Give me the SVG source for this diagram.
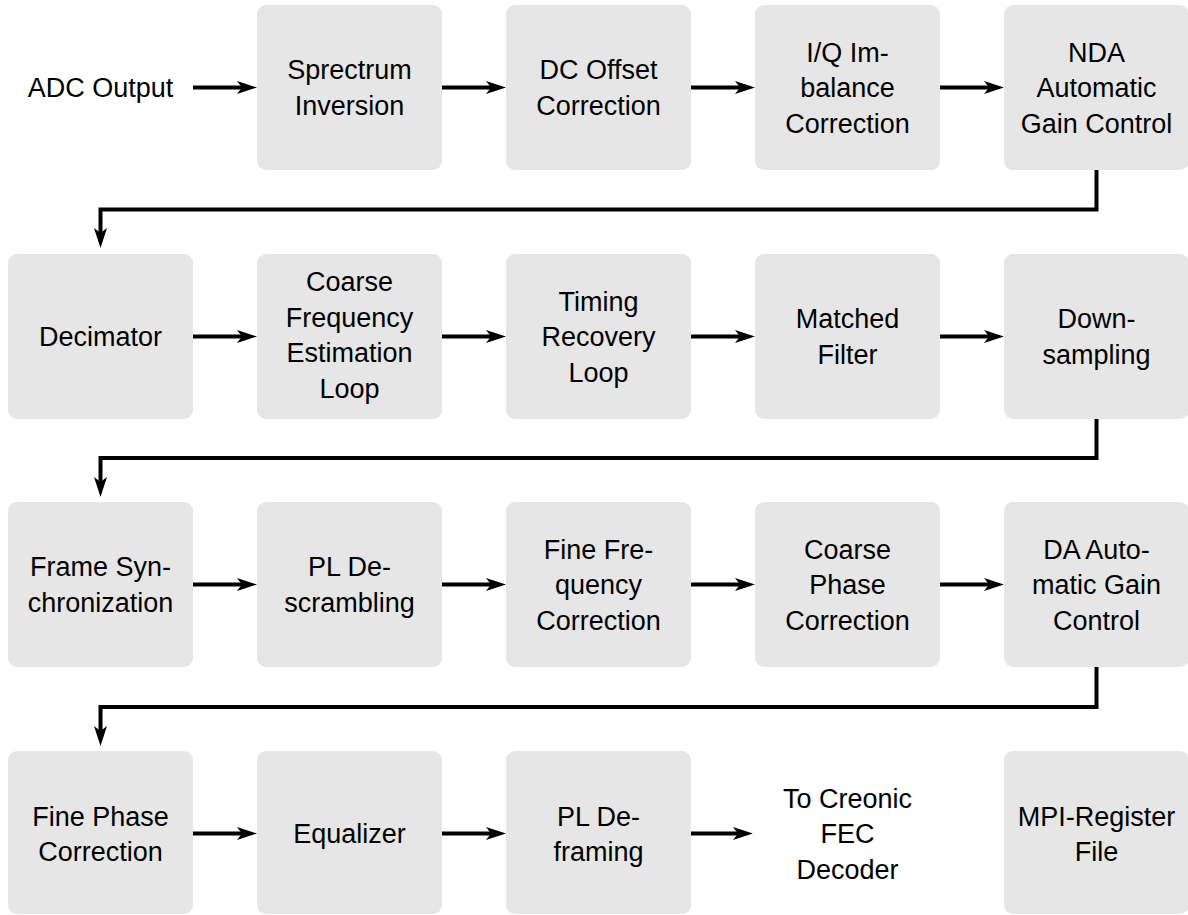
<svg xmlns="http://www.w3.org/2000/svg" width="1188" height="915" viewBox="0 0 1188 915">
<style>
  .box { fill: #e6e6e6; stroke: none; }
  .lbl { font-family: "Liberation Sans", Arial, sans-serif; font-size: 27px; fill: #000; text-anchor: middle; }
  .wire { fill: none; stroke: #000; stroke-width: 4; stroke-linejoin: miter; stroke-linecap: butt; }
</style>
<defs>
  <marker id="ah" viewBox="0 0 20 13" refX="12" refY="6.5" markerWidth="20" markerHeight="13" markerUnits="userSpaceOnUse" orient="auto">
    <path d="M0,0 L20,6.5 L0,13 L5,6.5 z" fill="#000"/>
  </marker>
</defs>
<rect width="1188" height="915" fill="#fff"/>

<!-- Row 1 -->
<g id="adc-output"><text class="lbl" x="100.5" y="97">ADC Output</text></g>
<g id="spectrum-inversion"><rect class="box" x="257" y="5" width="185" height="165" rx="9"/>
  <text class="lbl" x="349.5" y="79.25">Sprectrum</text><text class="lbl" x="349.5" y="114.75">Inversion</text></g>
<g id="dc-offset"><rect class="box" x="506" y="5" width="185" height="165" rx="9"/>
  <text class="lbl" x="598.5" y="79.25">DC Offset</text><text class="lbl" x="598.5" y="114.75">Correction</text></g>
<g id="iq-imbalance"><rect class="box" x="755" y="5" width="185" height="165" rx="9"/>
  <text class="lbl" x="847.5" y="61.5">I/Q Im-</text><text class="lbl" x="847.5" y="97">balance</text><text class="lbl" x="847.5" y="132.5">Correction</text></g>
<g id="nda-agc"><rect class="box" x="1004" y="5" width="185" height="165" rx="9"/>
  <text class="lbl" x="1096.5" y="61.5">NDA</text><text class="lbl" x="1096.5" y="97">Automatic</text><text class="lbl" x="1096.5" y="132.5">Gain Control</text></g>

<!-- Row 2 -->
<g id="decimator"><rect class="box" x="8" y="254" width="185" height="165" rx="9"/>
  <text class="lbl" x="100.5" y="346">Decimator</text></g>
<g id="coarse-freq"><rect class="box" x="257" y="254" width="185" height="165" rx="9"/>
  <text class="lbl" x="349.5" y="291">Coarse</text><text class="lbl" x="349.5" y="326.5">Frequency</text><text class="lbl" x="349.5" y="362">Estimation</text><text class="lbl" x="349.5" y="397.5">Loop</text></g>
<g id="timing-recovery"><rect class="box" x="506" y="254" width="185" height="165" rx="9"/>
  <text class="lbl" x="598.5" y="310.5">Timing</text><text class="lbl" x="598.5" y="346">Recovery</text><text class="lbl" x="598.5" y="381.5">Loop</text></g>
<g id="matched-filter"><rect class="box" x="755" y="254" width="185" height="165" rx="9"/>
  <text class="lbl" x="847.5" y="328.25">Matched</text><text class="lbl" x="847.5" y="363.75">Filter</text></g>
<g id="downsampling"><rect class="box" x="1004" y="254" width="185" height="165" rx="9"/>
  <text class="lbl" x="1096.5" y="328.25">Down-</text><text class="lbl" x="1096.5" y="363.75">sampling</text></g>

<!-- Row 3 -->
<g id="frame-sync"><rect class="box" x="8" y="502" width="185" height="165" rx="9"/>
  <text class="lbl" x="100.5" y="576.25">Frame Syn-</text><text class="lbl" x="100.5" y="611.75">chronization</text></g>
<g id="pl-descrambling"><rect class="box" x="257" y="502" width="185" height="165" rx="9"/>
  <text class="lbl" x="349.5" y="576.25">PL De-</text><text class="lbl" x="349.5" y="611.75">scrambling</text></g>
<g id="fine-freq"><rect class="box" x="506" y="502" width="185" height="165" rx="9"/>
  <text class="lbl" x="598.5" y="558.5">Fine Fre-</text><text class="lbl" x="598.5" y="594">quency</text><text class="lbl" x="598.5" y="629.5">Correction</text></g>
<g id="coarse-phase"><rect class="box" x="755" y="502" width="185" height="165" rx="9"/>
  <text class="lbl" x="847.5" y="558.5">Coarse</text><text class="lbl" x="847.5" y="594">Phase</text><text class="lbl" x="847.5" y="629.5">Correction</text></g>
<g id="da-agc"><rect class="box" x="1004" y="502" width="185" height="165" rx="9"/>
  <text class="lbl" x="1096.5" y="558.5">DA Auto-</text><text class="lbl" x="1096.5" y="594">matic Gain</text><text class="lbl" x="1096.5" y="629.5">Control</text></g>

<!-- Row 4 -->
<g id="fine-phase"><rect class="box" x="8" y="751" width="185" height="163" rx="9"/>
  <text class="lbl" x="100.5" y="825.5">Fine Phase</text><text class="lbl" x="100.5" y="861">Correction</text></g>
<g id="equalizer"><rect class="box" x="257" y="751" width="185" height="163" rx="9"/>
  <text class="lbl" x="349.5" y="843">Equalizer</text></g>
<g id="pl-deframing"><rect class="box" x="506" y="751" width="185" height="163" rx="9"/>
  <text class="lbl" x="598.5" y="825.5">PL De-</text><text class="lbl" x="598.5" y="861">framing</text></g>
<g id="to-fec"><text class="lbl" x="847.5" y="807.5">To Creonic</text><text class="lbl" x="847.5" y="843">FEC</text><text class="lbl" x="847.5" y="878.5">Decoder</text></g>
<g id="mpi-register"><rect class="box" x="1004" y="751" width="185" height="163" rx="9"/>
  <text class="lbl" x="1096.5" y="825.5">MPI-Register</text><text class="lbl" x="1096.5" y="861">File</text></g>

<!-- Connectors -->
<g id="connectors" class="wire" marker-end="url(#ah)">
  <path class="wire" marker-end="url(#ah)" d="M193,87.5 H249"/>
  <path class="wire" marker-end="url(#ah)" d="M442,87.5 H498"/>
  <path class="wire" marker-end="url(#ah)" d="M691,87.5 H747"/>
  <path class="wire" marker-end="url(#ah)" d="M940,87.5 H996"/>
  <path class="wire" marker-end="url(#ah)" d="M1096.5,170 V209.5 H100.5 V240"/>

  <path class="wire" marker-end="url(#ah)" d="M193,336.5 H249"/>
  <path class="wire" marker-end="url(#ah)" d="M442,336.5 H498"/>
  <path class="wire" marker-end="url(#ah)" d="M691,336.5 H747"/>
  <path class="wire" marker-end="url(#ah)" d="M940,336.5 H996"/>
  <path class="wire" marker-end="url(#ah)" d="M1096.5,419 V458 H100.5 V489"/>

  <path class="wire" marker-end="url(#ah)" d="M193,584.5 H249"/>
  <path class="wire" marker-end="url(#ah)" d="M442,584.5 H498"/>
  <path class="wire" marker-end="url(#ah)" d="M691,584.5 H747"/>
  <path class="wire" marker-end="url(#ah)" d="M940,584.5 H996"/>
  <path class="wire" marker-end="url(#ah)" d="M1096.5,667 V707 H100.5 V738"/>

  <path class="wire" marker-end="url(#ah)" d="M193,833.5 H249"/>
  <path class="wire" marker-end="url(#ah)" d="M442,833.5 H498"/>
  <path class="wire" marker-end="url(#ah)" d="M691,833.5 H745"/>
</g>
</svg>
